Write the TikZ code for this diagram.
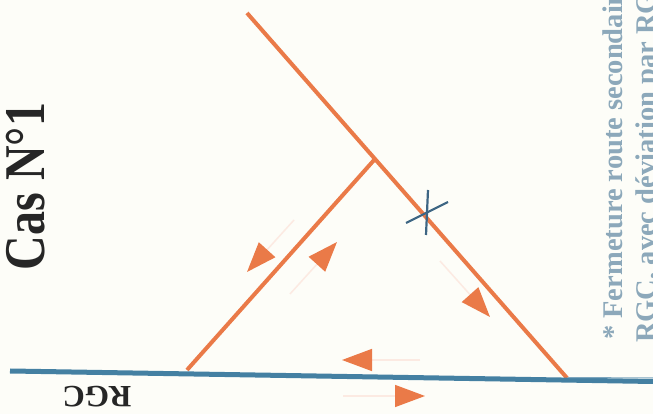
\documentclass[tikz,border=0pt]{standalone}
\usepackage{fontspec}
\setmainfont{Liberation Serif}
\usetikzlibrary{arrows.meta,calc}
\definecolor{paper}{RGB}{253,253,248}
\definecolor{roadorange}{RGB}{234,122,72}
\definecolor{rgcblue}{RGB}{68,128,162}
\definecolor{crossblue}{RGB}{62,102,132}
\definecolor{notegray}{RGB}{140,168,186}
\definecolor{inkdark}{RGB}{38,38,38}
\begin{document}
\begin{tikzpicture}[x=1pt, y=1pt,
  road/.style={draw=roadorange, line width=4pt},
  rgc/.style={draw=rgcblue, line width=5pt},
  closed/.style={draw=crossblue, line width=2.2pt},
  flow/.style={draw=roadorange!16, line width=1.5pt,
               -{Triangle[length=30pt, width=22pt, color=roadorange]}},
  title/.style={font=\bfseries\fontsize{48}{50}\selectfont, text=inkdark,
                rotate=90, anchor=base, inner sep=0pt},
  roadname/.style={font=\bfseries\fontsize{31}{33}\selectfont, text=inkdark,
                   rotate=180, anchor=base, inner sep=0pt},
  note/.style={font=\bfseries\fontsize{28.5}{31}\selectfont, text=notegray,
               rotate=90, anchor=base west, inner sep=0pt},
]
  \fill[paper] (0,0) rectangle (653,414);
  \useasboundingbox (0,0) rectangle (653,414);
  \clip (0,0) rectangle (653,414);
  % roads
  \coordinate (rgcW) at (10,43);
  \coordinate (rgcE) at (653,32.5);
  \coordinate (secN) at (247,401);
  \coordinate (secS) at (567,36);
  \coordinate (junc) at ($(secN)!0.4!(secS)$);
  \coordinate (spurS) at (187,44);
  \draw[road] (secN) -- (secS);
  \draw[road] (spurS) -- (junc);
  \draw[rgc] (rgcW) -- (rgcE);
  \draw[rgcblue!70, line width=1pt] (568,36.5) -- (653,36);
  % closure mark
  \coordinate (xa) at (428,224); \coordinate (xb) at (426,179);
  \coordinate (xc) at (406,191); \coordinate (xd) at (448,212);
  \draw[closed] (xa) -- (xb);
  \draw[closed] (xc) -- (xd);
  % traffic directions
  \coordinate (t1) at (294,194); \coordinate (h1) at (247,142);
  \coordinate (t2) at (290,120); \coordinate (h2) at (337,172);
  \coordinate (t3) at (440,153); \coordinate (h3) at (490,97);
  \coordinate (t4) at (420,54);  \coordinate (h4) at (342,54);
  \coordinate (t5) at (343,18);  \coordinate (h5) at (425,18);
  \draw[flow] (t1) -- (h1);
  \draw[flow] (t2) -- (h2);
  \draw[flow] (t3) -- (h3);
  \draw[flow] (t4) -- (h4);
  \draw[flow] (t5) -- (h5);
  % labels
  \node[title] (cas) at (45,227.5) {\scalebox{1}[1.2]{Cas N°1}};
  \node[roadname] (rgcname) at (97,27) {RGC};
  \node[note] (note1) at (622,74) {* Fermeture route secondaire};
  \node[note] (note2) at (655,71) {RGC, avec déviation par RGC};
\end{tikzpicture}
\end{document}
